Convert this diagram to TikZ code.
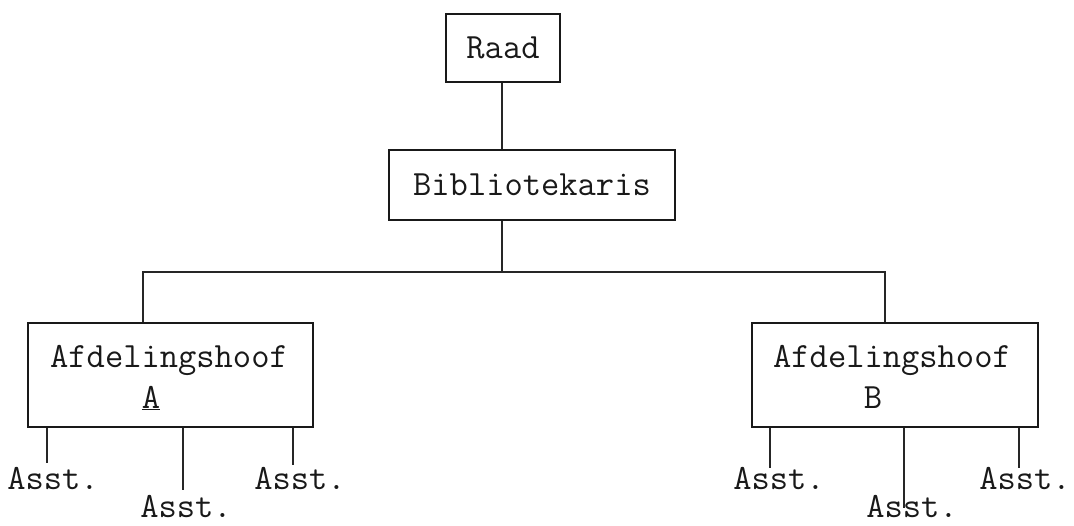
\documentclass[tikz,border=0pt]{standalone}
\usepackage{fontspec}
\begin{document}
\begin{tikzpicture}[x=1pt,y=-1pt,
  box/.style={draw=black!90,line width=2.2pt,minimum width=#1,inner sep=0pt},
  lbl/.style={font=\ttfamily\fontsize{35.5}{40}\selectfont,text=black!90,inner sep=0pt},
  conn/.style={draw=black!85,line width=1.2pt}]
\useasboundingbox (0,0) rectangle (1074,526);
% boxes
\node[box=114pt,minimum height=68pt] (raad) at (503,48) {};
\node[box=286pt,minimum height=70pt] (bib) at (532,185) {};
\node[box=285pt,minimum height=104pt] (boxA) at (170.5,375) {};
\node[box=286pt,minimum height=104pt] (boxB) at (895,375) {};
% texts
\node[lbl] (traad) at (503,48) {Raad};
\node[lbl] (tbib) at (532,185) {Bibliotekaris};
\node[lbl] (tA1) at (169,360) {Afdelingshoof};
\node[lbl] (tA2) at (151,398) {\underline{A}};
\node[lbl] (tB1) at (892,360) {Afdelingshoof};
\node[lbl] (tB2) at (873,398) {B};
\node[lbl] (a1) at (53,479) {Asst.};
\node[lbl] (a2) at (186,507) {Asst.};
\node[lbl] (a3) at (300,479) {Asst.};
\node[lbl] (b1) at (779,479) {Asst.};
\node[lbl] (b2) at (912,507) {Asst.};
\node[lbl] (b3) at (1025,479) {Asst.};
% junction coordinates
\coordinate (j0) at (502,272);
\coordinate (cL) at (143,272);
\coordinate (cR) at (885,272);
\coordinate (ea1) at (47,463);
\coordinate (ea2) at (183,490);
\coordinate (ea3) at (293,465);
\coordinate (eb1) at (770,468);
\coordinate (eb2) at (904,508);
\coordinate (eb3) at (1019,468);
% connectors
\draw[conn] (raad.south -| j0) -- (bib.north -| j0);
\draw[conn] (bib.south -| j0) -- (j0);
\draw[conn] (boxA.north -| cL) -- (cL) -- (cR) -- (boxB.north -| cR);
\draw[conn] (boxA.south -| ea1) -- (ea1);
\draw[conn] (boxA.south -| ea2) -- (ea2);
\draw[conn] (boxA.south -| ea3) -- (ea3);
\draw[conn] (boxB.south -| eb1) -- (eb1);
\draw[conn] (boxB.south -| eb2) -- (eb2);
\draw[conn] (boxB.south -| eb3) -- (eb3);
\end{tikzpicture}
\end{document}
